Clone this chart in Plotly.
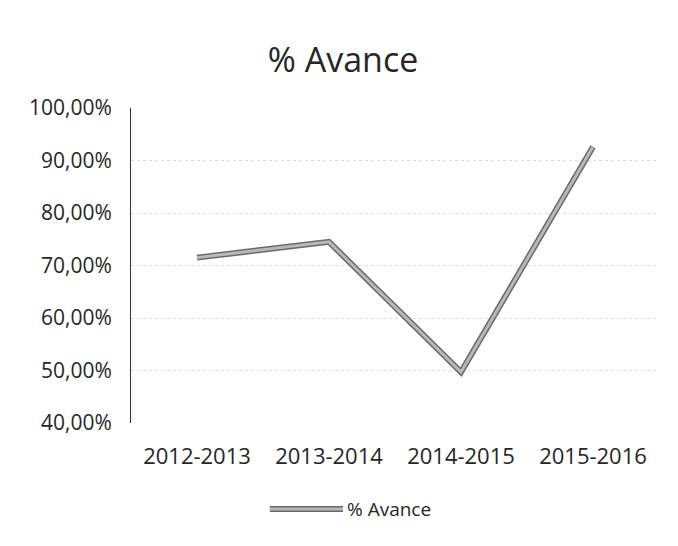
import plotly.graph_objects as go

categories = ["2012-2013", "2013-2014", "2014-2015", "2015-2016"]
avance = [0.715, 0.745, 0.497, 0.926]
series_name = "% Avance"
y_ticks = [0.4, 0.5, 0.6, 0.7, 0.8, 0.9, 1.0]
y_tick_labels = ["40,00%", "50,00%", "60,00%", "70,00%", "80,00%", "90,00%", "100,00%"]

FONT = "Open Sans"
TXT = "#262626"
DARK = "#6a6a6a"
LIGHT = "#b8b8b8"

fig = go.Figure()
fig.add_trace(go.Scatter(
    x=categories, y=avance, mode="lines", showlegend=False,
    line=dict(color=DARK, width=6), hoverinfo="skip"))
fig.add_trace(go.Scatter(
    x=categories, y=avance, mode="lines", name=series_name, showlegend=False,
    line=dict(color=LIGHT, width=3)))

# legend drawn as a long line sample plus text, like the original
leg_y = -0.273
fig.add_shape(type="line", xref="paper", yref="paper", x0=0.263, x1=0.4015,
              y0=leg_y, y1=leg_y, line=dict(color=DARK, width=6))
fig.add_shape(type="line", xref="paper", yref="paper", x0=0.263, x1=0.4015,
              y0=leg_y, y1=leg_y, line=dict(color=LIGHT, width=3))
fig.add_annotation(text=series_name, xref="paper", yref="paper", x=0.405, y=leg_y,
                   xanchor="left", yanchor="middle", showarrow=False,
                   font=dict(family=FONT, size=19, color=TXT))

fig.update_layout(
    width=670, height=538,
    margin=dict(l=123, r=19, t=100, b=123, autoexpand=False),
    paper_bgcolor="white", plot_bgcolor="white",
    title=dict(text="% Avance", x=0.5, xanchor="center", y=0.903, yanchor="middle",
               font=dict(family=FONT, size=34, color=TXT)),
    font=dict(family=FONT, size=20, color=TXT),
    showlegend=False,
)
fig.update_xaxes(range=[-0.5, 3.5], showline=False, showgrid=False, ticks="",
                 ticklabelstandoff=18, tickfont=dict(size=22, color=TXT), automargin=False)
fig.update_yaxes(range=[0.4, 1.0], tickvals=y_ticks, ticktext=y_tick_labels,
                 showline=True, linecolor="#333333", linewidth=1,
                 showgrid=True, gridcolor="#dcdcdc", griddash="dot", gridwidth=1,
                 zeroline=False, ticks="", ticklabelstandoff=14,
                 tickfont=dict(size=21, color=TXT), automargin=False)

fig.write_html("out.html")
